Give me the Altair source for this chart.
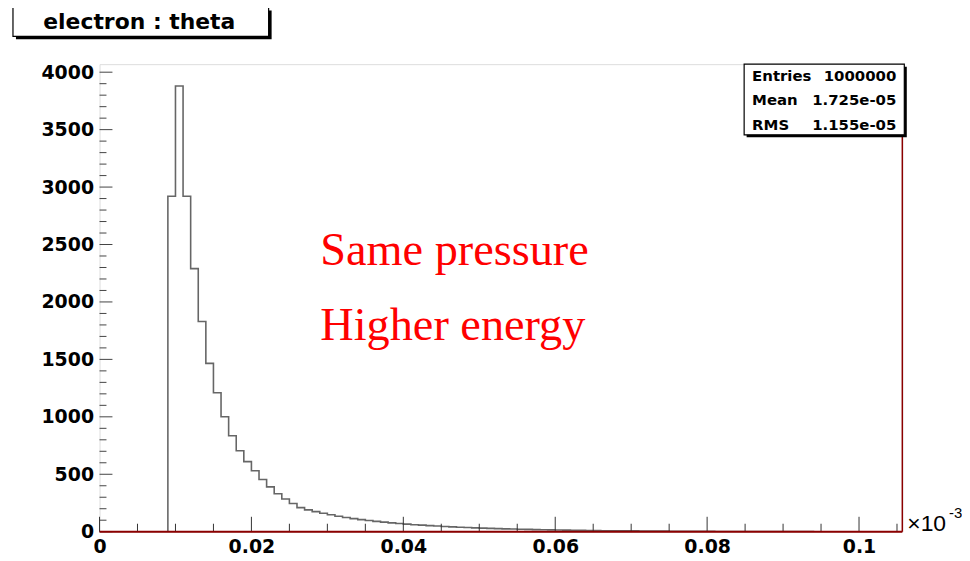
import altair as alt
import pandas as pd

# ---------------- data ----------------
bin_start = 0.009
bin_width = 0.001
counts = [2920, 3880, 2920, 2290, 1830, 1465, 1210, 1000, 835, 705,
          610, 530, 455, 390, 330, 285, 245, 210, 190, 175,
          160, 147, 135, 124, 114, 105, 97, 90, 83, 77,
          71, 66, 61, 57, 53, 49, 45, 42, 39, 36,
          33, 31, 29, 27, 25, 23, 21, 20, 18, 17,
          16, 15, 14, 13, 12, 11, 10, 9, 9, 8,
          7, 7, 6, 6, 5, 5, 4, 4, 4, 3,
          3, 3, 2, 2, 2, 2, 2, 1, 1, 1,
          1, 1, 1, 1, 1, 0, 0, 0, 0, 0, 0, 0, 0, 0, 0, 0]
x_max = 0.1057
y_max = 4070
x_major = [0, 0.02, 0.04, 0.06, 0.08, 0.1]
x_minor = [0.005, 0.01, 0.015, 0.025, 0.03, 0.035, 0.045, 0.05, 0.055,
           0.065, 0.07, 0.075, 0.085, 0.09, 0.095, 0.105]
y_major = [0, 500, 1000, 1500, 2000, 2500, 3000, 3500, 4000]
y_minor = [v for v in range(100, 4001, 100) if v % 500 != 0]
title_text = "electron : theta"
stats_names = ["Entries", "Mean", "RMS"]
stats_values = ["1000000", "1.725e-05", "1.155e-05"]
notes = ["Same pressure", "Higher energy"]
exponent_base = "\u00d710"
exponent_power = "-3"

# ---------------- tables ----------------
rows = [{"i": 0, "x": bin_start, "y": 0}]
for k, c in enumerate(counts):
    rows.append({"i": k + 1, "x": bin_start + k * bin_width, "y": c})
rows.append({"i": len(counts) + 1, "x": bin_start + len(counts) * bin_width, "y": 0})
hist_df = pd.DataFrame(rows)
one = pd.DataFrame({"a": [0]})

W, H = 807, 470
xs = alt.Scale(domain=[0, x_max], nice=False, zero=False)
ys = alt.Scale(domain=[0, y_max], nice=False, zero=False)
LBL = dict(labelFont="DejaVu Sans", labelFontWeight="bold", labelFontSize=19,
           labelColor="black", tickSize=0, domain=False, grid=False, title=None,
           labelFlush=False, labelOverlap=False)

hist = alt.Chart(hist_df).mark_line(interpolate="step-after", color="#666666",
                                    strokeWidth=1.6, clip=True).encode(
    x=alt.X("x:Q", scale=xs, axis=alt.Axis(values=x_major, format="~g",
                                             labelPadding=6, **LBL)),
    y=alt.Y("y:Q", scale=ys, axis=alt.Axis(values=y_major, format="d",
                                             labelPadding=6, **LBL)),
    order=alt.Order("i:Q"),
)

ytick_major = alt.Chart(pd.DataFrame({"v": y_major})).mark_rule(color="#444", strokeWidth=1).encode(
    y=alt.Y("v:Q", scale=ys), x=alt.value(0), x2=alt.value(13))
ytick_minor = alt.Chart(pd.DataFrame({"v": y_minor})).mark_rule(color="#444", strokeWidth=1).encode(
    y=alt.Y("v:Q", scale=ys), x=alt.value(0), x2=alt.value(7))
xtick_major = alt.Chart(pd.DataFrame({"v": x_major})).mark_rule(color="#333", strokeWidth=1).encode(
    x=alt.X("v:Q", scale=xs), y=alt.value(H), y2=alt.value(H - 15))
xtick_minor = alt.Chart(pd.DataFrame({"v": x_minor})).mark_rule(color="#333", strokeWidth=1).encode(
    x=alt.X("v:Q", scale=xs), y=alt.value(H), y2=alt.value(H - 8))

bottom_axis = alt.Chart(one).mark_rule(color="#8b0000", strokeWidth=2).encode(
    y=alt.datum(0, scale=ys), x=alt.value(0), x2=alt.value(W))
right_edge = alt.Chart(one).mark_rule(color="#8b0000", strokeWidth=1.5).encode(
    x=alt.datum(x_max, scale=xs), y=alt.value(0), y2=alt.value(H))

# title box
t_shadow = alt.Chart(one).mark_rect(fill="black").encode(
    x=alt.value(-84), x2=alt.value(173), y=alt.value(-54), y2=alt.value(-25))
t_box = alt.Chart(one).mark_rect(fill="white", stroke="black", strokeWidth=1.2).encode(
    x=alt.value(-87), x2=alt.value(170), y=alt.value(-57), y2=alt.value(-28))
t_text = alt.Chart(one).mark_text(text=title_text, font="DejaVu Sans", fontWeight="bold",
                                  fontSize=22, align="center", baseline="middle", color="black").encode(
    x=alt.value(40), y=alt.value(-42))

# stats box
s_shadow = alt.Chart(one).mark_rect(fill="black").encode(
    x=alt.value(650.5), x2=alt.value(811.5), y=alt.value(2.5), y2=alt.value(73.5))
s_box = alt.Chart(one).mark_rect(fill="white", stroke="black", strokeWidth=1.2).encode(
    x=alt.value(648), x2=alt.value(809), y=alt.value(0), y2=alt.value(71))
stats_layers = []
for r, (nm, val) in enumerate(zip(stats_names, stats_values)):
    yy = 11.5 + 25 * r
    stats_layers.append(alt.Chart(one).mark_text(text=nm, font="DejaVu Sans", fontWeight="bold",
                                                 fontSize=15, align="left", baseline="middle",
                                                 color="black").encode(
        x=alt.value(656), y=alt.value(yy)))
    stats_layers.append(alt.Chart(one).mark_text(text=val, font="DejaVu Sans", fontWeight="bold",
                                                 fontSize=15, align="right", baseline="middle",
                                                 color="black").encode(
        x=alt.value(801), y=alt.value(yy)))

note_layers = []
for r, txt in enumerate(notes):
    note_layers.append(alt.Chart(one).mark_text(text=txt, font="Liberation Serif", fontSize=46.5,
                                                align="left", baseline="alphabetic",
                                                color="#ff0000").encode(
        x=alt.value(222), y=alt.value(202 + 75 * r)))

exp1 = alt.Chart(one).mark_text(text=exponent_base, font="Liberation Sans", fontSize=23,
                                align="left", baseline="middle", color="black").encode(
    x=alt.value(812), y=alt.value(462))
exp2 = alt.Chart(one).mark_text(text=exponent_power, font="Liberation Sans", fontSize=15,
                                align="left", baseline="middle", color="black").encode(
    x=alt.value(854), y=alt.value(451))

chart = alt.layer(
    hist, ytick_major, ytick_minor, xtick_major, xtick_minor, bottom_axis, right_edge,
    t_shadow, t_box, t_text, s_shadow, s_box, *stats_layers, *note_layers, exp1, exp2
).properties(
    width=W, height=H,
    autosize=alt.AutoSizeParams(type="none"),
    padding={"left": 92, "top": 55, "right": 60, "bottom": 28},
).configure_view(stroke="#777777", strokeWidth=1.5).configure(background="white")

chart.save("out.html", embed_options={"renderer": "svg", "actions": False})
